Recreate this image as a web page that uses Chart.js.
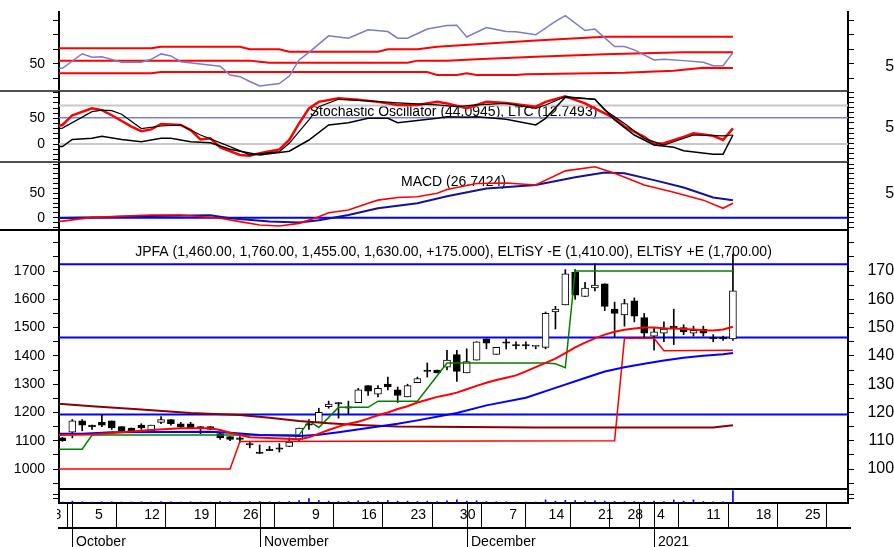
<!DOCTYPE html>
<html>
<head>
<meta charset="utf-8">
<title>JPFA</title>
<script src="https://cdn.jsdelivr.net/npm/chart.js@4.4.1/dist/chart.umd.min.js"></script>
<style>
  html, body { margin:0; padding:0; background:#fff; }
  #wrap { position:relative; width:894px; height:547px; overflow:hidden; background:#fff; }
  #wrap canvas { position:absolute; left:0; }
</style>
</head>
<body>
<div id="wrap">
  <canvas id="cTop" width="903" height="92" style="top:0px"></canvas>
  <canvas id="cSto" width="903" height="72" style="top:91px"></canvas>
  <canvas id="cMacd" width="903" height="69" style="top:162px"></canvas>
  <canvas id="cMain" width="903" height="261" style="top:230px"></canvas>
  <canvas id="cVol" width="903" height="58" style="top:489px"></canvas>
</div>
<script>
// ---------------- DATA ----------------
// trading days (index 0 = 2020-09-30)
const dates = ['2020-09-30','2020-10-01','2020-10-02',
  '2020-10-05','2020-10-06','2020-10-07','2020-10-08','2020-10-09',
  '2020-10-12','2020-10-13','2020-10-14','2020-10-15','2020-10-16',
  '2020-10-19','2020-10-20','2020-10-21','2020-10-22','2020-10-23',
  '2020-10-26','2020-10-27',
  '2020-11-02','2020-11-03','2020-11-04','2020-11-05','2020-11-06',
  '2020-11-09','2020-11-10','2020-11-11','2020-11-12','2020-11-13',
  '2020-11-16','2020-11-17','2020-11-18','2020-11-19','2020-11-20',
  '2020-11-23','2020-11-24','2020-11-25','2020-11-26','2020-11-27',
  '2020-11-30','2020-12-01','2020-12-02','2020-12-03','2020-12-04',
  '2020-12-07','2020-12-08','2020-12-10','2020-12-11',
  '2020-12-14','2020-12-15','2020-12-16','2020-12-17','2020-12-18',
  '2020-12-21','2020-12-22','2020-12-23',
  '2020-12-28','2020-12-29','2020-12-30',
  '2021-01-04','2021-01-05','2021-01-06','2021-01-07','2021-01-08',
  '2021-01-11','2021-01-12','2021-01-13','2021-01-14'];
const open  = [1110,1130,1170,1155,1165,1170,1150,1145,1155,1135,
               1165,1175,1160,1160,1150,1150,1125,1115,1110,1090,
               1060,1070,1075,1080,1105,1160,1165,1220,1235,1220,
               1235,1295,1265,1300,1280,1255,1305,1350,1350,1360,
               1405,1340,1385,1460,1405,1450,1440,1440,1435,1430,
               1555,1580,1695,1610,1640,1655,1565,1545,1595,1535,
               1470,1480,1505,1500,1480,1495,1465,1465,1460];
const high  = [1112,1175,1175,1155,1190,1170,1150,1145,1160,1155,
               1185,1175,1165,1165,1150,1150,1130,1115,1115,1095,
               1085,1080,1090,1110,1145,1175,1215,1240,1235,1240,
               1285,1295,1295,1325,1290,1300,1325,1375,1350,1420,
               1420,1425,1450,1460,1430,1460,1450,1450,1435,1555,
               1575,1705,1705,1660,1725,1655,1590,1600,1605,1550,
               1500,1520,1565,1510,1505,1505,1475,1470,1760];
const low   = [1098,1110,1135,1140,1150,1140,1130,1130,1140,1130,
               1160,1155,1145,1145,1125,1140,1105,1100,1095,1075,
               1055,1065,1060,1080,1100,1140,1165,1215,1180,1195,
               1235,1260,1255,1280,1235,1255,1305,1325,1340,1350,
               1310,1340,1385,1425,1405,1425,1425,1425,1425,1425,
               1495,1580,1600,1610,1630,1560,1465,1505,1520,1465,
               1420,1450,1440,1475,1470,1470,1450,1455,1455];
const close = [1100,1170,1155,1150,1155,1145,1135,1135,1145,1155,
               1175,1160,1150,1145,1145,1140,1110,1105,1105,1085,
               1055,1065,1070,1095,1145,1155,1200,1230,1230,1215,
               1280,1275,1285,1290,1260,1295,1320,1345,1340,1385,
               1345,1380,1450,1445,1430,1445,1435,1435,1435,1550,
               1565,1690,1615,1640,1650,1575,1550,1585,1540,1480,
               1485,1495,1500,1485,1490,1480,1460,1460,1630];
const volume = [8,15,10,8,10,10,8,8,10,8,
                12,10,8,10,8,8,12,10,8,10,
                12,10,10,12,20,35,20,15,12,12,
                18,15,12,20,15,15,12,15,12,18,
                25,15,18,12,10,10,8,8,8,25,
                15,22,20,15,18,15,12,12,12,12,
                15,12,25,15,25,12,10,10,100];

// overlay / indicator series: [trading-day index, value]
const trailUp   = [[-1,1070],[2,1070],[3,1120],[24,1120],[25,1170],[26,1147],[28,1218],[31,1218],[32,1240],[36,1240],[39,1375],[49,1375],[50,1372],[51,1358],[52,1700],[68,1700]];
const trailDown = [[-1,1000],[17,1000],[18,1097],[56,1100],[57,1462],[60,1462],[61,1418],[68,1420]];
const maMaroon  = [[-1,1232],[3,1222],[8,1210],[13,1198],[18,1191],[21,1181],[24,1170],[27,1162],[30,1156],[34,1150],[48,1147],[66,1147],[68,1155]];
const maBlue    = [[-1,1125],[2,1125],[5,1130],[15,1132],[17,1128],[20,1120],[24,1117],[26,1121],[28,1130],[31,1145],[34,1160],[36,1172],[40,1198],[43,1225],[47,1252],[50,1287],[53,1322],[55,1345],[57,1360],[59,1372],[61,1384],[63,1393],[65,1400],[67,1406],[68,1410]];
const maRed     = [[-1,1120],[3,1122],[6,1130],[9,1138],[12,1144],[15,1144],[16,1138],[17,1128],[19,1112],[24,1105],[25,1112],[26,1125],[27,1138],[28,1150],[29,1160],[30,1167],[31,1178],[32,1190],[33,1200],[34,1212],[35,1222],[36,1235],[37,1245],[38,1255],[39,1262],[40,1270],[41,1282],[42,1294],[43,1305],[44,1315],[45,1323],[46,1331],[47,1345],[48,1360],[49,1375],[50,1390],[51,1410],[52,1430],[53,1447],[54,1462],[55,1475],[56,1485],[57,1492],[58,1497],[59,1500],[60,1500],[61,1498],[62,1497],[63,1495],[64,1493],[65,1491],[66,1490],[67,1493],[68,1503]];
const priceLevels = [1724, 1465, 1193];

const topLine   = [[-1,47],[0,47],[2,57],[3,54.6],[4,55],[6,51.2],[8,51.2],[9,53.2],[10,56.9],[11,55.5],[12,51.6],[14,50],[16,48.5],[17,42.4],[18,41.3],[19,38],[20,35],[22,36.6],[23,41.7],[24,52.8],[25,58],[27,69.3],[29,67.7],[31,73.4],[33,72.2],[34,67.7],[35,67.7],[37,73.9],[39,76.4],[40,76.6],[41,68.5],[43,75],[45,72.2],[46,72],[48,70],[50,79.2],[51,83.1],[53,72.9],[54,73.9],[56,62],[57,62],[58,59.7],[60,52.8],[61,53.2],[63,52.3],[65,51.2],[66,48.8],[67,48.8],[68,57.8]];
const bandUpper = [[-1,60.8],[9,60.8],[10,61.8],[18,61.8],[19,60.1],[22,60.1],[23,58.4],[32,58.4],[33,60.1],[36,60.1],[38,61.8],[42,63.5],[48,66],[55,68.7],[68,68.7]];
const bandMid   = [[-1,52.3],[19,52.3],[20,51.6],[21,50.9],[35,50.9],[36,52.3],[39,52.3],[42,53.2],[48,55],[55,56.6],[63,58],[68,58]];
const bandLower = [[-1,43.6],[9,43.6],[10,44.5],[37,44.5],[38,42.5],[40,42.5],[41,43.6],[42,42.5],[46,42.5],[47,43],[57,44],[62,45.4],[65,47.5],[68,47.2]];

const stochK = [[-1,33],[0,37],[1,56],[3,69.5],[4,66],[5,56],[7,34],[8,25],[9,28.5],[10,39],[12,37],[13,27],[14,9],[15,11],[16,-6.5],[18,-21.4],[19,-22.7],[20,-18],[22,-10.5],[23,7.8],[24,40],[25,69.5],[26,82],[28,89],[30,86],[32,82],[34,76],[36,76],[38,82],[39,79],[41,69.5],[43,82],[45,80],[48,72.6],[49,82],[51,93],[53,79],[54,69.5],[56,50],[57,34],[59,14],[60,0],[61,1.4],[63,14],[64,21],[66,16],[67,8],[68,30.5]];
const stochD = [[-1,28],[0,31],[3,63],[4,66],[5,65],[6,58],[8,30],[10,35],[12,37],[14,17.5],[17,-5],[19,-21],[22,-15],[23,1.4],[25,47],[26,72.6],[28,87],[31,84],[34,80],[38,76],[40,72.6],[42,76],[45,79],[48,69.5],[49,76],[51,92],[54,87],[55,66],[57,40],[59,11],[61,-2],[62,4.5],[64,17.5],[67,15.8],[68,17.5]];
const ltc    = [[-1,-5],[0,-5],[1,9],[3,11],[4,15],[6,9],[8,4.5],[10,11],[11,11],[13,4.5],[15,2.5],[17,-10],[20,-21.4],[23,-14],[25,7.8],[27,37],[29,41.5],[31,50],[33,50],[34,41.5],[36,45.6],[38,50],[39,53],[41,52],[42,53],[45,48],[48,37],[49,50],[51,91],[54,87],[56,47],[58,17.5],[60,-2],[62,-6.5],[63,-13],[66,-19.7],[67,-19.7],[68,17.5]];
const stochLevels = [75, 0];
const stochMidLevel = 51;

const macdLine   = [[-1,-8],[0,-7],[3,0.7],[9,5.5],[12,5.5],[16,-1],[18,-8],[20,-15],[22,-17],[24,-11.6],[26,2],[27,10],[29,15.8],[31,29.5],[32,36],[34,41.5],[36,43],[38,50],[39,58],[42,70],[45,71],[48,67],[51,96],[54,104.5],[56,91],[59,67],[62,52],[65,36],[67,19.3],[68,29.5]];
const signalLine = [[-1,-1],[4,0.7],[9,3.4],[15,4.8],[17,-1],[21,-8],[24,-9.6],[26,-5],[29,5.5],[32,19.3],[36,29.5],[39,44],[43,60],[48,67],[52,83],[55,92.8],[57,91],[60,77],[63,62],[66,41.5],[68,36]];

// axis labels (week starts, first one lies just before the visible range)
const weekTicks  = [[-2,'28'],[3,'5'],[8,'12'],[13,'19'],[18,'26'],[25,'9'],[30,'16'],[35,'23'],[40,'30'],[45,'7'],[49,'14'],[54,'21'],[57,'28'],[60,'4'],[65,'11'],[70,'18'],[75,'25']];
const monthTicks = [[1,'October'],[20,'November'],[41,'December'],[60,'2021']];

const titleMain  = 'JPFA (1,460.00, 1,760.00, 1,455.00, 1,630.00, +175.000), ELTiSY -E (1,410.00), ELTiSY +E (1,700.00)';
const titleStoch = 'Stochastic Oscillator (44.0945), LTC (12.7493)';
const titleMacd  = 'MACD (26.7424)';

// ---------------- LAYOUT ----------------
const FONT = "'Liberation Sans', Arial, sans-serif";
const X_MIN = -0.35, X_MAX = 79.67;
const CANVAS_W = 903;
const LEFT_W = 59, RIGHT_W = CANVAS_W - 848;

function range(a, b, s) { const r = []; for (let v = a; v <= b + 1e-9; v += s) r.push(Math.round(v * 100) / 100); return r; }
function pts(arr) { return arr.map(([x, y]) => ({x, y})); }
function line(data, color, width, extra) {
  return Object.assign({type:'line', data: pts(data), borderColor: color, backgroundColor: color,
    borderWidth: width, pointRadius: 0, tension: 0, fill: false, clip: 0, yAxisID: 'y', order: 0}, extra || {});
}
function level(v, color, width, order) {
  return line([[X_MIN - 2, v], [X_MAX + 2, v]], color, width, {order: order});
}

function decoPlugin(cfg) {
  return {
    id: 'deco',
    beforeDatasetsDraw(chart) {
      if (!cfg.title) return;
      const {ctx, chartArea: a} = chart;
      ctx.save();
      ctx.font = '14px ' + FONT;
      ctx.fillStyle = '#000';
      ctx.textAlign = 'center';
      ctx.textBaseline = 'alphabetic';
      ctx.fillText(cfg.title, (a.left + a.right) / 2, a.top + cfg.titleDy);
      ctx.restore();
    },
    afterDraw(chart) {
      const {ctx, chartArea: a} = chart;
      ctx.save();
      (cfg.hlines || []).forEach(h => {
        ctx.fillStyle = h.color;
        ctx.fillRect(h.x0, a.bottom + h.dy, h.x1 - h.x0, h.w);
      });
      if (cfg.after) cfg.after(chart);
      ctx.restore();
    }
  };
}

function yAxis(pos, o) {
  const right = pos === 'right';
  const labels = right ? o.labelsR : o.labelsL;
  const tv = (right && o.ticksR) || o.ticks;
  return {
    type: 'linear', position: pos,
    min: right && o.minR !== undefined ? o.minR : o.min,
    max: right && o.maxR !== undefined ? o.maxR : o.max,
    bounds: 'data', offset: false,
    afterFit: s => { s.width = right ? RIGHT_W : LEFT_W; s.paddingTop = 0; s.paddingBottom = 0; },
    afterBuildTicks: s => { s.ticks = tv.map(v => ({value: v})); },
    border: {display: true, color: '#000', width: 2},
    grid: {drawOnChartArea: false, drawTicks: true, tickLength: 6, color: '#000', lineWidth: 1},
    ticks: {autoSkip: false, padding: 8, crossAlign: right ? 'far' : 'near', color: '#000',
      labelOffset: right ? (o.labelOffsetR || 0) : 0,
      font: {family: FONT, size: right ? 16 : 14},
      callback: v => labels.includes(v) ? String(v) : ''}
  };
}

function makeChart(id, o) {
  return new Chart(document.getElementById(id), {
    type: 'line',
    data: {datasets: o.datasets},
    options: {
      responsive: false, animation: false, devicePixelRatio: 1, events: [],
      layout: {padding: {top: o.padTop, bottom: o.padBottom, left: 0, right: 0}},
      plugins: {legend: {display: false}, tooltip: {enabled: false}, title: {display: false}},
      scales: {
        x: o.x || {type: 'linear', min: X_MIN, max: X_MAX, bounds: 'data', offset: false, display: false},
        y: yAxis('left', o),
        yR: yAxis('right', o)
      }
    },
    plugins: [decoPlugin(o.deco || {})]
  });
}

Chart.defaults.font.family = FONT;
Chart.defaults.color = '#000';

// ---- top panel ----
makeChart('cTop', {
  min: 31.5, max: 85.6, ticks: range(40, 80, 10), labelsL: [50], labelsR: [50], labelOffsetR: 2.5,
  padTop: 12, padBottom: 1,
  datasets: [
    line(topLine, '#7b7bc8', 1.5),
    line(bandUpper, '#ff0000', 2, {order: 1}),
    line(bandMid, '#ff0000', 2, {order: 1}),
    line(bandLower, '#ff0000', 2, {order: 1})
  ],
  deco: {hlines: [{x0: 0, x1: 848, dy: -1, w: 2, color: '#505050'}]}
});

// ---- stochastic ----
makeChart('cSto', {
  min: -35, max: 101.2, ticks: range(-30, 100, 10), labelsL: [0, 50],
  minR: -16.1, maxR: 120, ticksR: range(-10, 120, 10), labelsR: [50],
  padTop: 1, padBottom: 1,
  datasets: [
    line(stochK, '#ff0000', 2.5, {order: 1}),
    line(stochD, '#000000', 1.2),
    line(ltc, '#000000', 1.5),
    ...stochLevels.map(v => level(v, '#c8c8c8', 2, 5)),
    level(stochMidLevel, '#8080d8', 1.5, 5)
  ],
  deco: {title: titleStoch, titleDy: 24, hlines: [{x0: 0, x1: 848, dy: -1, w: 2, color: '#505050'}]}
});

// ---- MACD ----
makeChart('cMacd', {
  min: -25.2, max: 112.1, ticks: range(-20, 110, 10), labelsL: [0, 50], labelsR: [50],
  padTop: 1, padBottom: 1,
  datasets: [
    line(macdLine, '#ff0000', 1.6),
    line(signalLine, '#12129a', 2, {order: 1}),
    level(0, '#0000ff', 2, 5)
  ],
  deco: {title: titleMacd, titleDy: 23, hlines: [{x0: 0, x1: 848, dy: -1, w: 2, color: '#000'}]}
});

// ---- main price panel ----
const bodyData = dates.map((d, i) => {
  let a = open[i], b = close[i];
  if (Math.abs(b - a) < 4) { const m = (a + b) / 2; a = m - 2; b = m + 2; }
  return {x: i, y: [a, b]};
});
const wickData = dates.map((d, i) => ({x: i, y: [low[i], high[i]]}));
makeChart('cMain', {
  min: 929.4, max: 1841.4, ticks: range(950, 1800, 50),
  labelsL: range(1000, 1700, 100), labelsR: range(1000, 1700, 100),
  padTop: 1, padBottom: 2,
  datasets: [
    line(maRed, '#ff0000', 2),
    line(maBlue, '#0000ff', 2),
    line(maMaroon, '#8b0000', 2),
    line(trailUp, '#008000', 1.5),
    line(trailDown, '#ff0000', 1.5),
    {type: 'bar', data: bodyData, yAxisID: 'y', order: 2, grouped: false, barThickness: 7,
      backgroundColor: c => close[c.dataIndex] >= open[c.dataIndex] ? '#ffffff' : '#000000',
      borderColor: '#000', borderWidth: 1, borderSkipped: false},
    {type: 'bar', data: wickData, yAxisID: 'y', order: 3, grouped: false, barThickness: 1,
      backgroundColor: '#000', borderWidth: 0},
    ...priceLevels.map(v => level(v, '#0000ff', 2, 4))
  ],
  deco: {title: titleMain, titleDy: 25, hlines: [{x0: 59, x1: 848, dy: -1, w: 2, color: '#000'}]}
});

// ---- volume strip + date axis ----
const inRange = w => w[0] >= X_MIN && w[0] <= X_MAX;
makeChart('cVol', {
  min: 0, max: 105, ticks: [35, 70], labelsL: [], labelsR: [],
  padTop: 1, padBottom: 0,
  x: {
    type: 'linear', position: 'bottom', min: X_MIN, max: X_MAX, bounds: 'data', offset: false,
    afterFit: s => { s.height = 44; s.paddingLeft = 0; s.paddingRight = 0; },
    afterBuildTicks: s => { s.ticks = weekTicks.filter(inRange).map(([n]) => ({value: n})); },
    border: {display: true, color: '#000', width: 2},
    grid: {drawOnChartArea: false, drawTicks: true, tickLength: 24, color: '#000', lineWidth: 1},
    ticks: {autoSkip: false, maxRotation: 0, minRotation: 0, align: 'start', labelOffset: 3, padding: -20,
      color: '#000', font: {family: FONT, size: 14},
      callback: v => { const t = weekTicks.find(w => w[0] === v); return t ? t[1] : ''; }}
  },
  datasets: [
    {type: 'bar', data: volume.map((v, i) => ({x: i, y: v})), yAxisID: 'y', grouped: false,
      barThickness: 1, backgroundColor: '#0000ff', borderWidth: 0}
  ],
  deco: {
    after(chart) {
      const {ctx, chartArea: a, scales: {x}} = chart;
      ctx.fillStyle = '#000';
      ctx.fillRect(58, a.bottom + 24, 793, 2);
      ctx.font = '14px ' + FONT;
      ctx.textAlign = 'left';
      ctx.textBaseline = 'middle';
      // week label that starts left of the axis: only its clipped tail shows
      ctx.save();
      ctx.beginPath();
      ctx.rect(57, a.bottom, 10, 24);
      ctx.clip();
      weekTicks.filter(w => !inRange(w)).forEach(([n, t]) => {
        ctx.fillText(t, x.getPixelForValue(n) + 3, a.bottom + 12.4);
      });
      ctx.restore();
      ctx.textBaseline = 'alphabetic';
      monthTicks.forEach(([n, name]) => {
        const px = Math.round(x.getPixelForValue(n));
        ctx.fillRect(px, a.bottom, 1, 44);
        ctx.fillText(name, px + 4, a.bottom + 43);
      });
    }
  }
});
</script>
</body>
</html>
